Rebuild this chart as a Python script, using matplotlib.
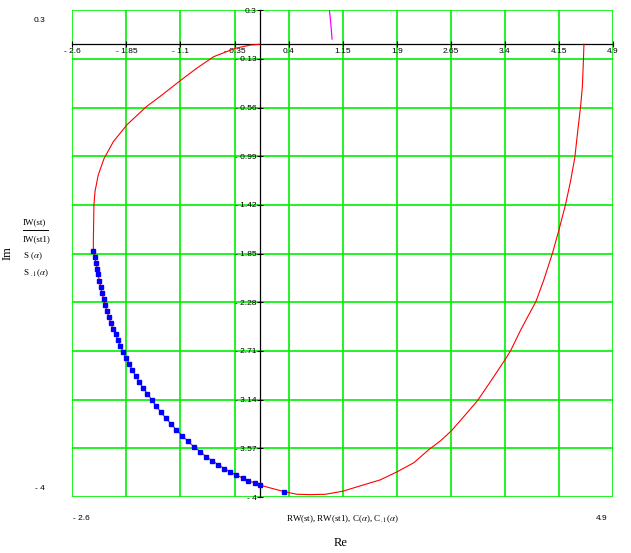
import matplotlib
matplotlib.use("Agg")
import matplotlib.pyplot as plt
from matplotlib.lines import Line2D

plt.rcParams["mathtext.fontset"] = "stix"

# ---- data ----
x_ticks = [-2.6, -1.85, -1.1, -0.35, 0.4, 1.15, 1.9, 2.65, 3.4, 4.15, 4.9]
x_tick_labels = ["- 2.6", "- 1.85", "- 1.1", "- 0.35", "0.4", "1.15", "1.9",
                 "2.65", "3.4", "4.15", "4.9"]
y_ticks = [0.3, -0.13, -0.56, -0.99, -1.42, -1.85, -2.28, -2.71, -3.14, -3.57, -4.0]
y_tick_labels = ["0.3", "- 0.13", "- 0.56", "- 0.99", "- 1.42", "- 1.85", "- 2.28",
                 "- 2.71", "- 3.14", "- 3.57", "- 4"]

# red trace, from the origin to the dotted part
red_left_x = [0.0, -0.13, -0.34, -0.64, -0.87, -1.10, -1.38, -1.57, -1.84, -2.03,
              -2.16, -2.24, -2.285, -2.30, -2.308]
red_left_y = [0.0, -0.007, -0.036, -0.11, -0.21, -0.32, -0.46, -0.55, -0.71, -0.86,
              -1.01, -1.155, -1.30, -1.42, -1.744]

# blue points
blue_x = [-2.308, -2.289, -2.271, -2.253, -2.243, -2.225, -2.206, -2.192, -2.164,
          -2.146, -2.122, -2.094, -2.067, -2.039, -1.997, -1.969, -1.933, -1.896,
          -1.850, -1.808, -1.767, -1.719, -1.669, -1.618, -1.558, -1.497, -1.437,
          -1.372, -1.303, -1.229, -1.156, -1.076, -0.997, -0.910, -0.822, -0.747,
          -0.660, -0.576, -0.493, -0.410, -0.326, -0.239, -0.156, -0.072, 0.007,
          0.340]
blue_y = [-1.824, -1.877, -1.930, -1.983, -2.032, -2.089, -2.142, -2.195, -2.248,
          -2.301, -2.354, -2.407, -2.460, -2.513, -2.562, -2.615, -2.668, -2.721,
          -2.774, -2.827, -2.878, -2.933, -2.984, -3.037, -3.087, -3.143, -3.196,
          -3.249, -3.304, -3.355, -3.408, -3.458, -3.507, -3.558, -3.599, -3.643,
          -3.679, -3.714, -3.749, -3.779, -3.805, -3.832, -3.855, -3.876, -3.896,
          -3.953]

# red trace, after the dotted part
red_right_x = [0.40, 0.52, 0.70, 0.91, 1.15, 1.44, 1.67, 1.91, 2.14, 2.34, 2.51,
               2.66, 2.83, 3.02, 3.20, 3.40, 3.48, 3.62, 3.73, 3.83, 3.94, 4.06,
               4.15, 4.24, 4.31, 4.37, 4.41, 4.45, 4.475, 4.489, 4.497]
red_right_y = [-3.961, -3.976, -3.979, -3.976, -3.949, -3.893, -3.849, -3.776,
               -3.696, -3.584, -3.502, -3.414, -3.290, -3.149, -2.981, -2.789,
               -2.707, -2.524, -2.392, -2.274, -2.083, -1.847, -1.641, -1.420,
               -1.214, -1.002, -0.772, -0.552, -0.375, -0.154, 0.0]

# magenta trace (mostly outside the view)
mag_x = [0.96, 0.975, 0.99, 1.003]
mag_y = [0.34, 0.25, 0.15, 0.046]

# ---- figure ----
W, H = 631, 553
fig = plt.figure(figsize=(W / 100, H / 100), dpi=100)
L, R, T, B = 72.3, 613.0, 10.3, 497.0
ax = fig.add_axes([L / W, 1 - B / H, (R - L) / W, (B - T) / H])

ax.set_xlim(x_ticks[0], x_ticks[-1])
ax.set_ylim(y_ticks[-1], y_ticks[0])

ax.set_xticks(x_ticks)
ax.set_xticklabels(x_tick_labels)
ax.set_yticks(y_ticks)
ax.set_yticklabels(y_tick_labels)

green = "#00f000"
ax.grid(True, color=green, linewidth=1.2)
ax.set_axisbelow(True)
for gl in ax.get_xgridlines() + ax.get_ygridlines():
    gl.set_clip_on(False)

for s in ["top", "right"]:
    ax.spines[s].set_visible(False)
ax.spines["left"].set_position(("data", 0))
ax.spines["bottom"].set_position(("data", 0))
for s in ["left", "bottom"]:
    ax.spines[s].set_linewidth(0.9)
    ax.spines[s].set_zorder(3)

ax.tick_params(axis="both", direction="inout", length=4, width=0.8,
               labelsize=6, pad=1)
ax.tick_params(axis="y", pad=0.5)
for lab in ax.get_xticklabels() + ax.get_yticklabels():
    lab.set_fontfamily("Liberation Sans")

red_x = red_left_x + blue_x + red_right_x
red_y = red_left_y + blue_y + red_right_y
ax.plot(red_x, red_y, color="red", linewidth=0.8, zorder=4)
ax.plot(blue_x, blue_y, linestyle="none", marker="s", markersize=3.4,
        color="#0000ff", zorder=5)
ax.plot(mag_x, mag_y, color="magenta", linewidth=0.9, zorder=4)

# ---- outer texts (Mathcad style) ----
def ftext(px, py, s, **kw):
    fig.text(px / W, 1 - py / H, s, **kw)

serif = "Liberation Serif"
sans = "Liberation Sans"
ftext(40, 20, "0.3", ha="center", va="center", fontsize=6, family=sans)
ftext(40, 488, "- 4", ha="center", va="center", fontsize=6, family=sans)
ftext(81, 519, "- 2.6", ha="center", va="center", fontsize=6, family=sans)
ftext(602, 519, "4.9", ha="center", va="center", fontsize=6, family=sans)
ftext(342.5, 519, r"RW(st), RW(st1), C($\alpha$), C$_{.1}$($\alpha$)",
      ha="center", va="center", fontsize=6.5, family=serif)
ftext(341, 543, "Re", ha="center", va="center", fontsize=9, family=serif)
ftext(8, 253, "Im", ha="center", va="center", fontsize=9, family=serif,
      rotation=90)

ftext(23, 222, "IW(st)", ha="left", va="center", fontsize=6.5, family=serif)
fig.add_artist(Line2D([23 / W, 48 / W], [1 - 230 / H, 1 - 230 / H],
                      color="black", linewidth=0.7))
ftext(23, 239, "IW(st1)", ha="left", va="center", fontsize=6.5, family=serif)
ftext(23, 256, r"S ($\alpha$)", ha="left", va="center", fontsize=6.5, family=serif)
ftext(23, 273, r"S $_{.1}$($\alpha$)", ha="left", va="center", fontsize=6.5,
      family=serif)

fig.savefig("out.png", dpi=100)
